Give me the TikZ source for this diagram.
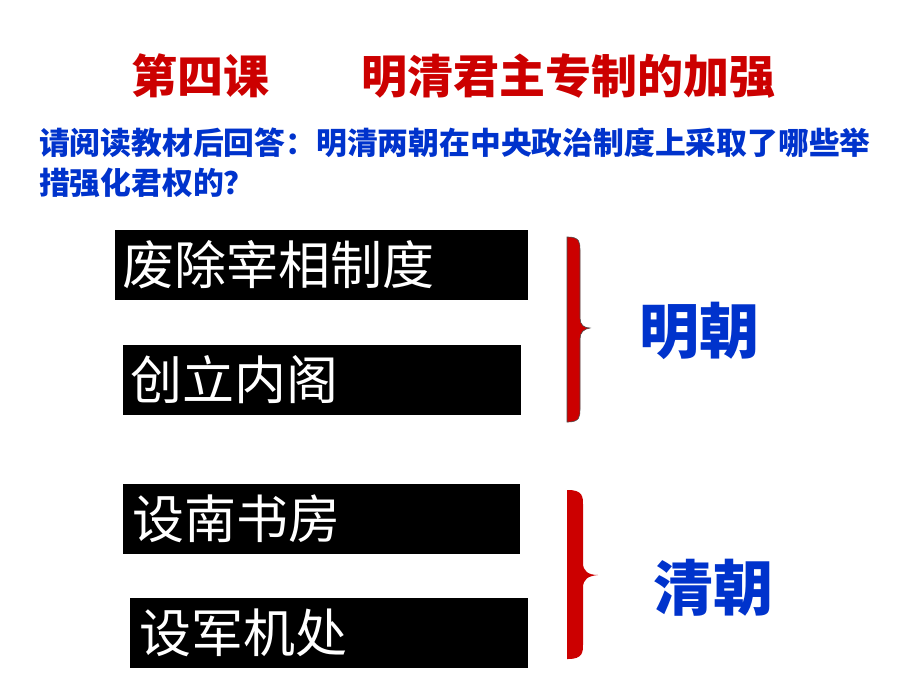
\documentclass[tikz,border=0pt]{standalone}
\usepackage{fontspec}
\newfontfamily\cjk{Noto Sans CJK SC}
\definecolor{tred}{RGB}{204,0,0}
\definecolor{tblue}{RGB}{0,51,204}
\begin{document}
\begin{tikzpicture}[x=1pt,y=-1pt,
  every node/.style={inner sep=0pt, outer sep=0pt},
  titletext/.style={anchor=west, text=tred, font=\cjk\bfseries\fontsize{46}{54}\selectfont},
  qtext/.style={anchor=west, text=tblue, font=\cjk\bfseries\fontsize{30.8}{36}\selectfont},
  blackbox/.style={anchor=north west, fill=black, text=white, minimum height=70pt,
     inner xsep=7pt, align=left, font=\cjk\fontsize{52}{60}\selectfont},
  dyn/.style={anchor=west, text=tblue, font=\cjk\bfseries\fontsize{60}{66}\selectfont},
  bracefill/.style={fill=tred}
]
\useasboundingbox[fill=white] (0,0) rectangle (920,690);
% titles
\node[titletext] (t1) at (131,76) {第四课};
\node[titletext] (t2) at (361,76) {明清君主专制的加强};
\node[qtext] (q1) at (39,143) {请阅读教材后回答：明清两朝在中央政治制度上采取了哪些举};
\node[qtext] (q2) at (39,183) {措强化君权的？};
% boxes
\node[blackbox, text width=399pt] (b1) at (115,230) {\raisebox{-2pt}{废除宰相制度}};
\node[blackbox, text width=384pt] (b2) at (123,345) {\raisebox{-2pt}{创立内阁}};
\node[blackbox, text width=379pt, inner xsep=9pt] (b3) at (123,484) {\raisebox{-2pt}{设南书房}};
\node[blackbox, text width=380pt, inner xsep=9pt] (b4) at (130,598) {\raisebox{-2pt}{设军机处}};
% braces
\coordinate (br1) at (567,237);
\fill[bracefill, draw=black!70, line width=0.6pt]
  (br1) -- (568,237) .. controls (580,237) and (580,243) .. (580,250)
  -- (580,318) .. controls (580,325) and (584,328) .. (590,328)
  .. controls (584,329) and (580,332) .. (580,339)
  -- (580,409) .. controls (580,416) and (580,422) .. (568,422)
  -- (567,422) -- cycle;
\coordinate (br2) at (567,490);
\fill[bracefill]
  (br2) -- (568,490) .. controls (583,490) and (583,497) .. (583,505)
  -- (583,563) .. controls (583,571) and (588,575) .. (598,575)
  .. controls (588,576) and (583,579) .. (583,588)
  -- (583,644) .. controls (583,652) and (583,659) .. (568,659)
  -- (567,659) -- cycle;
% dynasty labels
\node[dyn] (d1) at (639,331) {明朝};
\node[dyn] (d2) at (653,588) {清朝};
\end{tikzpicture}
\end{document}
